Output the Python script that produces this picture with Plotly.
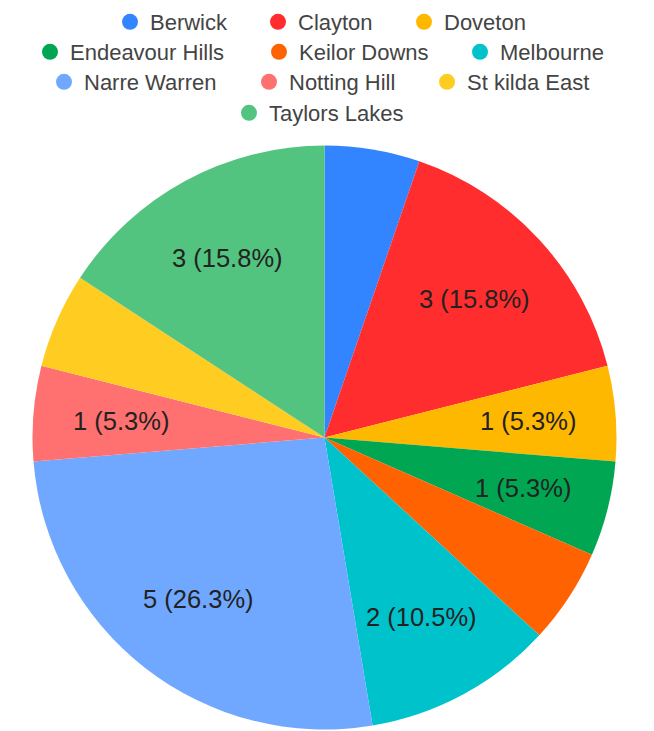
import math
import plotly.graph_objects as go

suburbs = ["Berwick", "Clayton", "Doveton", "Endeavour Hills", "Keilor Downs",
           "Melbourne", "Narre Warren", "Notting Hill", "St kilda East", "Taylors Lakes"]
counts = [1, 3, 1, 1, 1, 2, 5, 1, 1, 3]
show_label = [False, True, True, True, False, True, True, True, False, True]
colors = ["#3385FF", "#FF2D2D", "#FFB800", "#00A651", "#FF6200",
          "#00C2CB", "#70A8FF", "#FF7070", "#FFCC22", "#52C480"]

W, H = 654, 731
cx, cy, R = 324.5, 437.5, 292.0
FONT = "Liberation Sans, Arial, sans-serif"

fig = go.Figure()
fig.add_trace(go.Pie(
    labels=suburbs, values=counts, sort=False, direction="clockwise", rotation=0,
    marker=dict(colors=colors, line=dict(width=0)),
    textinfo="none",
    domain=dict(x=[(cx - R) / W, (cx + R) / W], y=[1 - (cy + R) / H, 1 - (cy - R) / H]),
    showlegend=False, hoverinfo="label+value+percent",
))

# slice value labels, placed at 70% of the radius on each slice's mid-angle
total = sum(counts)
annotations = []
cum = 0
for v, show in zip(counts, show_label):
    theta = 2 * math.pi * (cum + v / 2) / total
    cum += v
    if not show:
        continue
    px = cx + 0.70 * R * math.sin(theta)
    py = cy - 0.70 * R * math.cos(theta)
    annotations.append(dict(
        x=px / W, y=1 - py / H, xref="paper", yref="paper", showarrow=False,
        text=f"{v} ({v / total * 100:.1f}%)",
        font=dict(family=FONT, size=25.5, color="#222222"),
        xanchor="center", yanchor="middle",
    ))

# legend entries: one small legend per entry, placed like the reference rows
legend_pos = [(128, 22), (276, 22), (422, 22),
              (48, 52), (277, 52), (478, 52),
              (62, 82), (267, 82), (445, 82),
              (247, 113)]
layout_legends = {}
for i, name in enumerate(suburbs):
    lname = "legend" if i == 0 else f"legend{i + 1}"
    fig.add_trace(go.Scatter(
        x=[None], y=[None], mode="markers", name=name,
        marker=dict(color=colors[i], size=22, symbol="circle"),
        legend=lname, showlegend=True, hoverinfo="skip",
    ))
    mx, my = legend_pos[i]
    layout_legends[lname] = dict(
        orientation="h", x=(mx - 18) / W, xanchor="left",
        y=1 - my / H, yanchor="middle",
        font=dict(family=FONT, size=22, color="#444444"),
        bgcolor="rgba(0,0,0,0)", borderwidth=0,
        itemclick=False, itemdoubleclick=False,
    )

fig.update_layout(
    width=W, height=H, margin=dict(l=0, r=0, t=0, b=0),
    paper_bgcolor="white", plot_bgcolor="white",
    xaxis=dict(visible=False), yaxis=dict(visible=False),
    annotations=annotations,
    **layout_legends,
)
fig.write_html("out.html", config={"displayModeBar": False},
               post_script="document.body.style.margin='0px';")
